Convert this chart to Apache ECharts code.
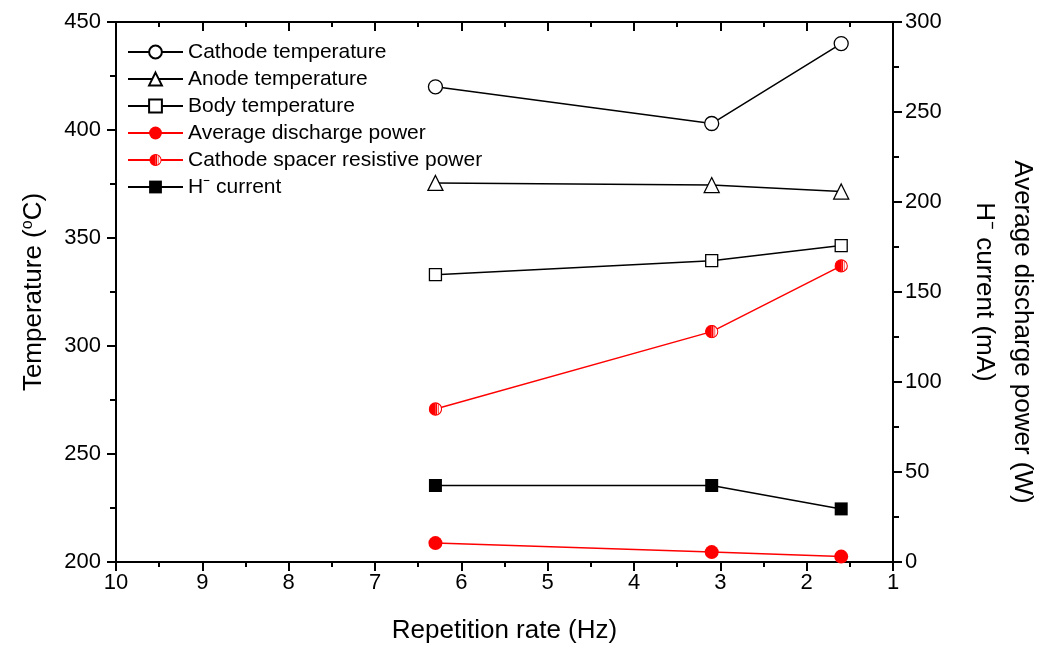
<!DOCTYPE html>
<html>
<head>
<meta charset="utf-8">
<script src="https://cdn.jsdelivr.net/npm/echarts@6/dist/echarts.min.js"></script>
<style>
html,body{margin:0;padding:0;background:#fff;}
#main{width:1047px;height:651px;}
</style>
</head>
<body>
<div id="main"></div>
<script>
// ---- data ----
const repRate = [6.3, 3.1, 1.6];
const cathodeTemp = [420, 403, 440];
const anodeTemp = [375.5, 374.5, 371.5];
const bodyTemp = [333, 339.5, 346.5];
const avgDischargePower = [10.5, 5.5, 3];
const spacerPower = [85, 128, 164.5];
const hCurrent = [42.5, 42.5, 29.5];
const xTicks = [1, 10, 1];      // min, max, interval
const leftTicks = [200, 450, 50];
const rightTicks = [0, 300, 50];

const FONT = '"Liberation Sans", Arial, sans-serif';
const pairs = ys => repRate.map((x, i) => [x, ys[i]]);

const halfSvg = "<svg xmlns='http://www.w3.org/2000/svg' width='32' height='32' viewBox='0 0 32 32'>" +
  "<circle cx='16' cy='16' r='14' fill='white' stroke='red' stroke-width='2.5'/>" +
  "<path d='M16 2 A14 14 0 0 0 16 30 Z' fill='red'/>" +
  "<path d='M16 2 A14 14 0 0 1 20 2.6 L20 29.4 A14 14 0 0 1 16 30 Z' fill='red'/>" +
  "<path d='M23 5 L23 27' stroke='red' stroke-width='1.5'/></svg>";
const halfSymbol = 'image://data:image/svg+xml;charset=utf-8,' + encodeURIComponent(halfSvg);

function hollow(name, symbol, ys, size) {
  return {
    name, type: 'line', xAxisIndex: 0, yAxisIndex: 0, data: pairs(ys),
    symbol, symbolSize: size, showSymbol: true,
    lineStyle: { color: '#000', width: 1.5 },
    itemStyle: { color: '#fff', borderColor: '#000', borderWidth: 1.3 },
    emphasis: { disabled: true }, z: 3
  };
}

const axisLine = { show: true, lineStyle: { color: '#000', width: 2 } };
const tickStyle = { color: '#000', width: 2 };

const option = {
  animation: false,
  backgroundColor: '#fff',
  grid: { left: 116, right: 154, top: 22, bottom: 89, containLabel: false, outerBoundsMode: 'none' },
  legend: {
    left: 127, top: 41, orient: 'vertical', padding: 0,
    itemWidth: 55, itemHeight: 16, itemGap: 5,
    textStyle: { fontFamily: FONT, fontSize: 21, color: '#000', lineHeight: 22 },
    data: ['Cathode temperature', 'Anode temperature', 'Body temperature',
           'Average discharge power', 'Cathode spacer resistive power', 'H\u207B current']
  },
  xAxis: [{
    type: 'value', position: 'bottom', inverse: true,
    min: xTicks[0], max: xTicks[1], interval: xTicks[2],
    axisLine, splitLine: { show: false },
    axisTick: { show: true, inside: false, length: 9, lineStyle: tickStyle },
    minorTick: { show: true, splitNumber: 2, length: 5, lineStyle: tickStyle },
    axisLabel: { fontFamily: FONT, fontSize: 22, color: '#000', margin: 10 },
    name: 'Repetition rate (Hz)', nameLocation: 'middle', nameGap: 56,
    nameTextStyle: { fontFamily: FONT, fontSize: 26, color: '#000' }
  }, {
    type: 'value', position: 'top', inverse: true,
    min: xTicks[0], max: xTicks[1], interval: xTicks[2],
    axisLine, splitLine: { show: false },
    axisTick: { show: true, inside: true, length: 9, lineStyle: tickStyle },
    minorTick: { show: true, splitNumber: 2, length: 5, lineStyle: tickStyle },
    axisLabel: { show: false }
  }],
  yAxis: [{
    type: 'value', position: 'left',
    min: leftTicks[0], max: leftTicks[1], interval: leftTicks[2],
    axisLine, splitLine: { show: false },
    axisTick: { show: true, inside: false, length: 9, lineStyle: tickStyle },
    minorTick: { show: true, splitNumber: 2, length: 6, lineStyle: tickStyle },
    axisLabel: { fontFamily: FONT, fontSize: 22, color: '#000', margin: 15 },
    name: 'Temperature ({sup|o}C)', nameLocation: 'middle', nameGap: 68, nameRotate: 90,
    nameTextStyle: {
      fontFamily: FONT, fontSize: 26, color: '#000',
      rich: { sup: { fontFamily: FONT, fontSize: 16, color: '#000', padding: [0, 0, 12, 0] } }
    }
  }, {
    type: 'value', position: 'right',
    min: rightTicks[0], max: rightTicks[1], interval: rightTicks[2],
    axisLine, splitLine: { show: false },
    axisTick: { show: true, inside: false, length: 9, lineStyle: tickStyle },
    minorTick: { show: true, splitNumber: 2, length: 6, lineStyle: tickStyle },
    axisLabel: { fontFamily: FONT, fontSize: 22, color: '#000', margin: 12 },
    name: '{a|Average discharge power (W)}\n{b|H\u207B current (mA)}', nameLocation: 'middle',
    nameGap: 72, nameRotate: -90,
    nameTextStyle: {
      fontFamily: FONT, fontSize: 26, color: '#000', lineHeight: 38,
      rich: {
        a: { fontFamily: FONT, fontSize: 26, color: '#000', lineHeight: 38, padding: [0, 0, 0, 80] },
        b: { fontFamily: FONT, fontSize: 26, color: '#000', lineHeight: 38 }
      }
    }
  }],
  series: [
    hollow('Cathode temperature', 'circle', cathodeTemp, 14),
    hollow('Anode temperature', 'triangle', anodeTemp, 15),
    hollow('Body temperature', 'rect', bodyTemp, 12),
    {
      name: 'Average discharge power', type: 'line', xAxisIndex: 0, yAxisIndex: 1,
      data: pairs(avgDischargePower), symbol: 'circle', symbolSize: 14,
      lineStyle: { color: '#ff0000', width: 1.5 }, itemStyle: { color: '#ff0000' },
      emphasis: { disabled: true }, z: 3
    },
    {
      name: 'Cathode spacer resistive power', type: 'line', xAxisIndex: 0, yAxisIndex: 1,
      data: pairs(spacerPower), symbol: halfSymbol, symbolSize: 14,
      lineStyle: { color: '#ff0000', width: 1.5 }, itemStyle: { color: '#ff0000' },
      emphasis: { disabled: true }, z: 3
    },
    {
      name: 'H\u207B current', type: 'line', xAxisIndex: 0, yAxisIndex: 1,
      data: pairs(hCurrent), symbol: 'rect', symbolSize: 13,
      lineStyle: { color: '#000', width: 1.5 }, itemStyle: { color: '#000' },
      emphasis: { disabled: true }, z: 3
    }
  ]
};

const chart = echarts.init(document.getElementById('main'), null, { renderer: 'canvas' });
chart.setOption(option);
</script>
</body>
</html>
